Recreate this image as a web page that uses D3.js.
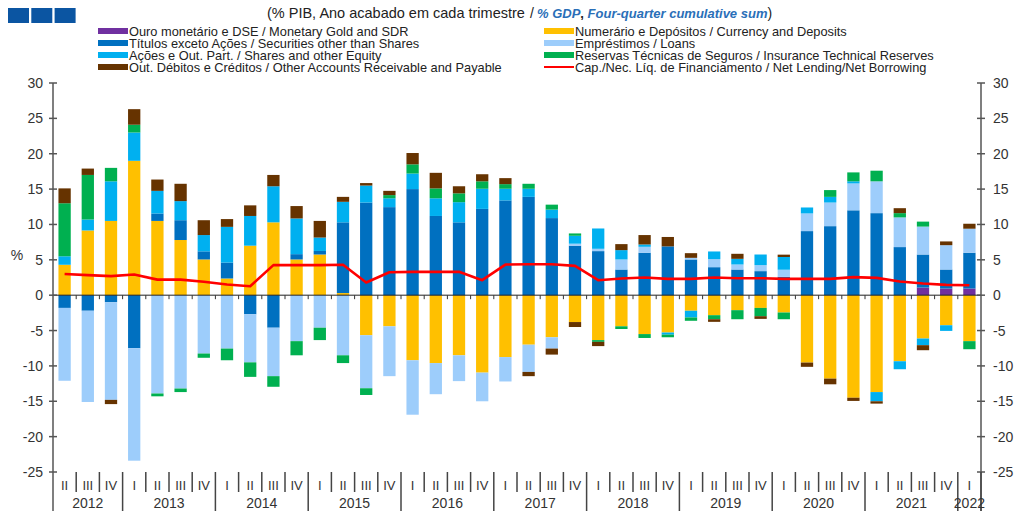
<!DOCTYPE html>
<html>
<head>
<meta charset="utf-8">
<script src="https://cdn.jsdelivr.net/npm/d3@7"></script>
<style>
    body { margin: 0; background: #fff; }
    svg { display: block; font-family: "Liberation Sans", Arial, sans-serif; }
</style>
</head>
<body>
<div id="chart"></div>
<script>
const periods = [
    '2012 II', '2012 III', '2012 IV',
    '2013 I', '2013 II', '2013 III', '2013 IV',
    '2014 I', '2014 II', '2014 III', '2014 IV',
    '2015 I', '2015 II', '2015 III', '2015 IV',
    '2016 I', '2016 II', '2016 III', '2016 IV',
    '2017 I', '2017 II', '2017 III', '2017 IV',
    '2018 I', '2018 II', '2018 III', '2018 IV',
    '2019 I', '2019 II', '2019 III', '2019 IV',
    '2020 I', '2020 II', '2020 III', '2020 IV',
    '2021 I', '2021 II', '2021 III', '2021 IV',
    '2022 I'
];

const gold = [0, 0, 0, 0, 0, 0, 0, 0, 0, 0, 0, 0, 0, 0, 0, 0, 0, 0, 0, 0,
    0, 0, 0, 0, 0, 0, 0, 0, 0, 0, 0, 0, 0, 0, 0, 0, 0, 1.08, 0.94, 0.94];
const currency = [4.3, 9.15, 10.5, 19.0, 10.5, 7.8, 5.05, 2.36, 7.0, 10.3, 5.05, 5.75, 0.3, -5.66, -4.4, -9.2, -9.6, -8.5, -10.95, -8.75,
    -7.0, -5.95, -3.8, -6.35, -4.4, -5.5, -5.28, -2.2, -2.83, -2.12, -1.8, -2.45, -9.53, -11.8, -14.5, -13.7, -9.34, -6.13, -4.25, -6.5];
const securities = [-1.8, -2.2, -1.0, -7.5, 1.05, 2.8, 1.15, 2.25, -2.7, -4.6, 0.75, 0.5, 10.0, 13.1, 12.45, 15.0, 11.2, 10.3, 12.2, 13.4,
    13.9, 10.9, 7.0, 6.23, 3.63, 6.0, 6.9, 5.05, 3.96, 3.63, 3.4, 2.6, 9.06, 9.76, 12.0, 11.6, 6.8, 4.67, 2.69, 5.06];
const loans = [-10.3, -12.9, -13.8, -15.9, -13.9, -13.2, -8.25, -7.55, -6.8, -6.85, -6.5, -4.6, -8.5, -7.5, -7.05, -7.7, -4.4, -3.65, -4.05, -3.45,
    -3.85, -1.6, 0.28, 0.33, 1.42, 0.84, 0, 0.23, 1.14, 0.71, 0.85, 1.0, 2.5, 3.34, 3.8, 4.5, 4.2, 3.95, 3.44, 3.4];
const shares = [1.2, 1.55, 5.6, 4.0, 3.2, 2.7, 2.3, 5.05, 4.2, 5.1, 5.05, 1.9, 2.9, 2.4, 1.25, 2.2, 2.5, 2.85, 2.85, 1.65,
    1.15, 1.2, 1.12, 2.87, 1.32, 0.33, -0.3, -0.95, 1.08, 0.8, 1.5, 1.8, 0.84, 0.8, 0.3, -1.3, -1.13, -0.94, -0.8, 0];
const insurance = [7.5, 6.3, 1.9, 1.1, -0.4, -0.5, -0.6, -1.65, -2.05, -1.5, -2.0, -1.75, -1.1, -0.95, 0.45, 1.3, 1.4, 1.25, 1.05, 0.65,
    0.7, 0.7, 0.33, -0.25, -0.38, -0.55, -0.37, -0.47, -0.57, -1.28, -1.17, -0.95, 0, 0.96, 1.26, 1.5, 0.6, 0.7, 0, -1.14];
const other = [2.1, 0.9, -0.6, 2.2, 1.6, 2.45, 2.1, 1.1, 1.5, 1.6, 1.75, 2.35, 0.7, 0.35, 0.6, 1.6, 2.2, 1.0, 1.0, 0.85,
    -0.6, -0.85, -0.7, -0.6, 0.85, 1.33, 1.33, 0.66, -0.37, 0.71, -0.38, 0.33, -0.6, -0.8, -0.45, -0.33, 0.7, -0.71, 0.53, 0.7];
const netLending = [3.0, 2.83, 2.7, 2.92, 2.2, 2.2, 1.9, 1.5, 1.27, 4.25, 4.25, 4.25, 4.3, 1.8, 3.25, 3.3, 3.3, 3.3, 2.12, 4.33,
    4.38, 4.38, 4.15, 2.12, 2.36, 2.5, 2.3, 2.3, 2.5, 2.4, 2.4, 2.3, 2.3, 2.3, 2.55, 2.45, 1.93, 1.65, 1.46, 1.4];

const yTicks = [-25, -20, -15, -10, -5, 0, 5, 10, 15, 20, 25, 30];

const series = [
    { key: 'gold', values: gold, color: '#7030a0', label: 'Ouro monetário e DSE / Monetary Gold and SDR' },
    { key: 'currency', values: currency, color: '#ffc000', label: 'Numerário e Depósitos / Currency and Deposits' },
    { key: 'securities', values: securities, color: '#0070c0', label: 'Títulos exceto Ações / Securities other than Shares' },
    { key: 'loans', values: loans, color: '#9dcdfb', label: 'Empréstimos / Loans' },
    { key: 'shares', values: shares, color: '#00b0f0', label: 'Ações e Out. Part. / Shares and other Equity' },
    { key: 'insurance', values: insurance, color: '#00b050', label: 'Reservas Técnicas de Seguros / Insurance Technical Reserves' },
    { key: 'other', values: other, color: '#663300', label: 'Out. Débitos e Créditos / Other Accounts Receivable and Payable' }
];
const lineLabel = 'Cap./Nec. Líq. de Financiamento / Net Lending/Net Borrowing';

const W = 1021, H = 511;
const plotLeft = 53, plotRight = 981, plotTop = 83, plotBottom = 472;

const svg = d3.select('#chart').append('svg').attr('width', W).attr('height', H);

const rows = periods.map((p, i) => {
    const r = { period: p };
    series.forEach(s => { r[s.key] = s.values[i]; });
    return r;
});

const x = d3.scaleBand().domain(periods).range([plotLeft, plotRight]).paddingInner(0.47).paddingOuter(0.235);
const y = d3.scaleLinear().domain([-25, 30]).range([plotBottom, plotTop]);

const stacked = d3.stack().keys(series.map(s => s.key)).offset(d3.stackOffsetDiverging)(rows);

// barras
stacked.forEach((layer, li) => {
    svg.append('g').attr('fill', series[li].color)
        .selectAll('rect').data(layer).join('rect')
        .attr('x', d => x(d.data.period))
        .attr('width', x.bandwidth())
        .attr('y', d => y(Math.max(d[0], d[1])))
        .attr('height', d => Math.abs(y(d[0]) - y(d[1])));
});

// linha de zero e marcas das categorias
const gap = x.step() * x.paddingInner() / 2;
svg.append('line').attr('x1', plotLeft).attr('x2', plotRight).attr('y1', y(0)).attr('y2', y(0))
    .attr('stroke', '#222').attr('stroke-width', 1);
svg.append('g').selectAll('line').data(periods.slice(1)).join('line')
    .attr('x1', d => x(d) - gap)
    .attr('x2', d => x(d) - gap)
    .attr('y1', y(0)).attr('y2', y(0) + 4)
    .attr('stroke', '#333').attr('stroke-width', 1);

// linha capacidade/necessidade
const line = d3.line()
    .x((d, i) => x(periods[i]) + x.bandwidth() / 2)
    .y(d => y(d));
svg.append('path').datum(netLending)
    .attr('d', line).attr('fill', 'none')
    .attr('stroke', '#ff0000').attr('stroke-width', 2.6).attr('stroke-linejoin', 'round');

// eixos verticais
[plotLeft, plotRight].forEach((ax, k) => {
    svg.append('line').attr('x1', ax).attr('x2', ax).attr('y1', plotTop).attr('y2', H)
        .attr('stroke', '#555').attr('stroke-width', 1.5);
    svg.append('g').selectAll('line').data(yTicks).join('line')
        .attr('x1', ax - 4).attr('x2', ax + 4)
        .attr('y1', d => y(d)).attr('y2', d => y(d))
        .attr('stroke', '#555').attr('stroke-width', 1.5);
    svg.append('g').selectAll('text').data(yTicks).join('text')
        .attr('x', k === 0 ? ax - 10 : ax + 12)
        .attr('y', d => y(d) + 5)
        .attr('text-anchor', k === 0 ? 'end' : 'start')
        .style('font-size', '14px').style('fill', '#333')
        .text(d => d);
});

svg.append('text').attr('x', 17).attr('y', 260).attr('text-anchor', 'middle')
    .style('font-size', '14px').style('fill', '#333').text('%');

// rotulos trimestres / anos
const quarterOf = p => p.split(' ')[1];
const yearOf = p => p.split(' ')[0];
const labelTop = 472;

svg.append('g').selectAll('text').data(periods).join('text')
    .attr('x', d => x(d) + x.bandwidth() / 2)
    .attr('y', 490)
    .attr('text-anchor', 'middle')
    .style('font-size', '13px').style('fill', '#333')
    .text(quarterOf);

const boundaries = periods.slice(1).map(p => ({
    xPos: x(p) - gap,
    newYear: quarterOf(p) === 'I'
}));
boundaries.push({ xPos: plotRight, newYear: true });
svg.append('g').selectAll('line').data(boundaries).join('line')
    .attr('x1', d => d.xPos).attr('x2', d => d.xPos)
    .attr('y1', labelTop).attr('y2', d => d.newYear ? H : 492)
    .attr('stroke', '#444').attr('stroke-width', 1.5);

const years = Array.from(d3.group(periods, yearOf), ([yr, ps]) => ({ yr, ps }));
svg.append('g').selectAll('text').data(years).join('text')
    .attr('x', d => (x(d.ps[0]) + x(d.ps[d.ps.length - 1]) + x.bandwidth()) / 2)
    .attr('y', 508)
    .attr('text-anchor', 'middle')
    .style('font-size', '14px').style('fill', '#333')
    .text(d => d.yr);

// cabecalho
svg.append('g').selectAll('rect').data([0, 1, 2]).join('rect')
    .attr('x', d => 8 + d * 23.3).attr('y', 8).attr('width', 21).attr('height', 15)
    .attr('fill', '#0b55a2');

const title = svg.append('text').attr('x', 267).attr('y', 18).style('fill', '#222');
title.append('tspan').style('font-size', '14.5px').text('(% PIB, Ano acabado em cada trimestre');
title.append('tspan').attr('x', 530).style('font-size', '14px').text('/');
title.append('tspan').attr('x', 537).style('font-size', '13px').style('fill', '#2a6fb8')
    .style('font-style', 'italic').style('font-weight', 'bold').text('% GDP');
title.append('tspan').style('font-size', '13px').style('font-weight', 'bold').text(', ');
title.append('tspan').style('font-size', '13px').style('fill', '#2a6fb8')
    .style('font-style', 'italic').style('font-weight', 'bold').text('Four-quarter cumulative sum');
title.append('tspan').style('font-size', '14px').text(')');

// legenda
const legendItems = [
    { s: series[0], col: 0, row: 0 }, { s: series[2], col: 0, row: 1 },
    { s: series[4], col: 0, row: 2 }, { s: series[6], col: 0, row: 3 },
    { s: series[1], col: 1, row: 0 }, { s: series[3], col: 1, row: 1 },
    { s: series[5], col: 1, row: 2 }
];
const colX = [98, 544];
const legend = svg.append('g');
legendItems.forEach(it => {
    const ly = 31 + it.row * 12;
    legend.append('rect').attr('x', colX[it.col]).attr('y', ly - 3).attr('width', 30).attr('height', 6)
        .attr('fill', it.s.color);
    legend.append('text').attr('x', colX[it.col] + 31).attr('y', ly + 4.5)
        .style('font-size', '12.8px').style('fill', '#222').text(it.s.label);
});
legend.append('line').attr('x1', colX[1]).attr('x2', colX[1] + 30).attr('y1', 67).attr('y2', 67)
    .attr('stroke', '#ff0000').attr('stroke-width', 2);
legend.append('text').attr('x', colX[1] + 31).attr('y', 71.5)
    .style('font-size', '12.8px').style('fill', '#222').text(lineLabel);
</script>
</body>
</html>
